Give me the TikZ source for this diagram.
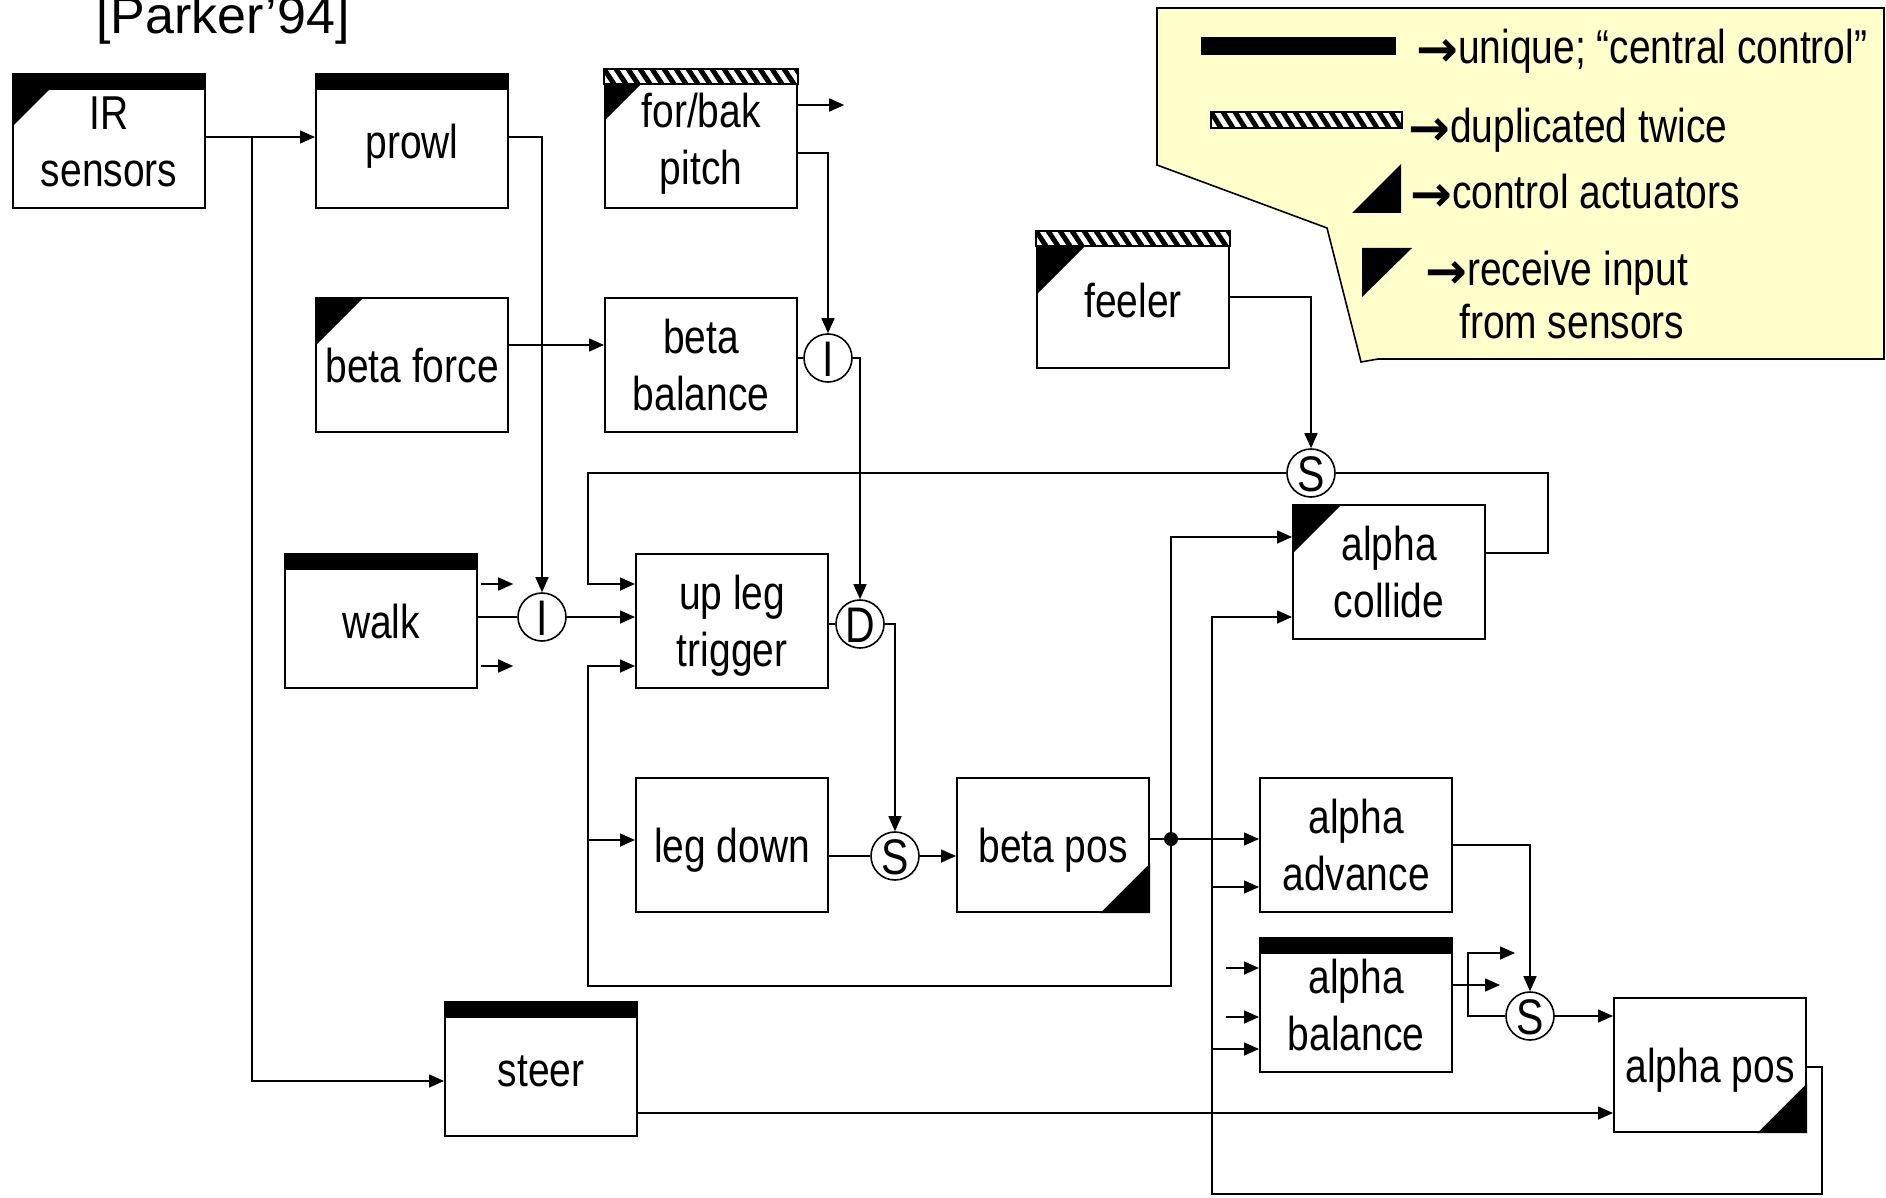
\documentclass[tikz,border=0pt]{standalone}
\usepackage{fontspec}
\setmainfont{Liberation Sans}[FakeStretch=0.82]
\newfontfamily\titlefont{Liberation Sans}
\newfontfamily\arrowfont{DejaVu Sans}
\usetikzlibrary{arrows.meta}

\definecolor{legendyellow}{RGB}{255,255,204}

\newcommand\boxfont{\fontsize{47.5}{57}\selectfont}
\newcommand\gatefont{\fontsize{50}{57}\selectfont}
% heavy arrow glyph that opens each legend entry
\newcommand\legarrow{{\arrowfont\bfseries\fontsize{50}{57}\selectfont\raisebox{-3pt}{→}}}
% two centred lines, baseline of the box = baseline of the last line
\newcommand\twoline[2]{\vbox{\baselineskip=57pt\halign{\hfil##\hfil\cr#1\cr#2\cr}}}

% black "unique" bar along the top of a behaviour box
\newcommand\topbar[1]{\fill (#1.north west) rectangle ([yshift=-17pt]#1.north east);}
% striped "duplicated" bar along the top of a behaviour box
\newcommand\hatchbar[1]{%
  \begin{scope}
    \clip (#1.north west) rectangle ([yshift=-15pt]#1.north east);
    \fill[white] (#1.north west) rectangle ([yshift=-15pt]#1.north east);
    \foreach \k in {-12,0,...,204}
      \draw[line width=5pt] ([xshift=\k pt]#1.north west) -- ++(10,15);
  \end{scope}
  \draw[line width=1.6pt] (#1.north west) rectangle ([yshift=-15pt]#1.north east);}
% sensor-input wedge in the top left corner (offset below a bar, size)
\newcommand\sensetri[3]{\fill ([yshift=-#2pt]#1.north west) -- ++(#3,0) -- ++(-#3,#3) -- cycle;}
% actuator wedge in the bottom right corner
\newcommand\acttri[1]{\fill (#1.south east) -- ++(0,-50) -- ++(-50,50) -- cycle;}

\tikzset{
  blk/.style={draw, line width=2.2pt, rectangle, minimum width=192pt,
    minimum height=134pt, inner sep=0pt, anchor=north west, fill=white,
    font=\boxfont, text height=34pt, text depth=0pt},
  blk2/.style={blk, text height=91pt},
  gate/.style={circle, draw, line width=1.6pt, fill=white, minimum size=48pt,
    inner sep=0pt, font=\gatefont, text height=36pt, text depth=0pt},
  wire/.style={line width=1.6pt},
  arr/.style={wire, -{Triangle[length=15pt,width=13pt]}},
  lgd/.style={anchor=base west, inner sep=0pt, font=\boxfont},
}

\begin{document}
\begin{tikzpicture}[x=1pt,y=-1pt]
\useasboundingbox (0,0) rectangle (1886,1198);

% ---------- legend callout ----------
\filldraw[fill=legendyellow, line width=1.6pt]
  (1157,8) -- (1884,8) -- (1884,359) -- (1378,359) -- (1361,362)
  -- (1327,228) -- (1157,165) -- cycle;
\fill (1201,37) rectangle (1396,55);
\begin{scope}
  \clip (1211,112) rectangle (1402,128);
  \fill[white] (1211,112) rectangle (1402,128);
  \foreach \k in {1199,1211,...,1405}
    \draw[line width=5pt] (\k,112) -- ++(10,16);
\end{scope}
\draw[line width=1.6pt] (1211,112) rectangle (1402,128);
\fill (1352,213) -- (1401,213) -- (1401,164) -- cycle;
\fill (1362,248) -- (1412,248) -- (1362,297) -- cycle;
\node[lgd] (leg1) at (1416,64)  {\legarrow unique; “central control”};
\node[lgd] (leg2) at (1408,143) {\legarrow duplicated twice};
\node[lgd] (leg3) at (1410,209) {\legarrow control actuators};
\node[lgd] (leg4) at (1425,285) {\legarrow receive input};
\node[lgd] (leg5) at (1459,338) {from sensors};

% ---------- title ----------
\node[anchor=base west, inner sep=0pt, font={\titlefont\fontsize{52}{60}\selectfont}]
  (title) at (96,34) {[Parker’94]};

% ---------- behaviour boxes ----------
\node[blk2] (ir)        at (12,73)    {\twoline{IR}{sensors}};
\node[blk]  (prowl)     at (315,73)   {prowl};
\node[blk2, minimum height=138pt] (forbak) at (604,69) {\twoline{for/bak}{pitch}};
\node[blk]  (betaforce) at (315,297)  {beta force};
\node[blk2] (betabal)   at (604,297)  {\twoline{beta}{balance}};
\node[blk, minimum height=136pt] (feeler) at (1036,231) {feeler};
\node[blk]  (walk)      at (284,553)  {walk};
\node[blk2] (upleg)     at (635,553)  {\twoline{up leg}{trigger}};
\node[blk2] (alphacol)  at (1292,504) {\twoline{alpha}{collide}};
\node[blk]  (legdown)   at (635,777)  {leg down};
\node[blk]  (betapos)   at (956,777)  {beta pos};
\node[blk2] (alphaadv)  at (1259,777) {\twoline{alpha}{advance}};
\node[blk2] (alphabal)  at (1259,937) {\twoline{alpha}{balance}};
\node[blk]  (alphapos)  at (1613,997) {alpha pos};
\node[blk]  (steer)     at (444,1001) {steer};

% box markings
\topbar{ir}      \sensetri{ir}{17}{37}
\topbar{prowl}
\hatchbar{forbak} \sensetri{forbak}{15}{37}
\sensetri{betaforce}{0}{49}
\hatchbar{feeler} \sensetri{feeler}{15}{49}
\topbar{walk}
\sensetri{alphacol}{0}{50}
\acttri{betapos}
\topbar{alphabal}
\acttri{alphapos}
\topbar{steer}

% ---------- suppression / inhibition / default nodes ----------
\node[gate] (iw)  at (542,617)  {I};
\node[gate] (ib)  at (828,358)  {I};
\node[gate] (d)   at (860,624)  {D};
\node[gate] (sld) at (895,856)  {S};
\node[gate] (sf)  at (1311,473) {S};
\node[gate] (sab) at (1530,1016) {S};

% ---------- connectors ----------
\coordinate (irsplit) at (252,137);
\draw[arr] (ir.east |- irsplit) -- (prowl.west |- irsplit);
\draw[arr] (irsplit) |- (steer.west |- 0,1081);
\draw[arr] (prowl.east |- 0,137) -| (iw.north);
\draw[arr] (betaforce.east |- 0,345) -- (betabal.west |- 0,345);

\draw[wire] (walk.east |- iw) -- (iw.west);
\draw[arr] (iw.east) -- (upleg.west |- iw);
\draw[arr] ([xshift=3pt]walk.east |- 0,584) -- ++(32,0);
\draw[arr] ([xshift=3pt]walk.east |- 0,666) -- ++(32,0);

\draw[arr] (forbak.east |- 0,105) -- ++(46,0);
\draw[arr] (forbak.east |- 0,153) -| (ib.north);
\draw[wire] (betabal.east |- ib) -- (ib.west);
\draw[arr] (ib.east) -| (d.north);
\draw[wire] (upleg.east |- d) -- (d.west);
\draw[arr] (d.east) -| (sld.north);
\draw[wire] (legdown.east |- sld) -- (sld.west);
\draw[arr] (sld.east) -- (betapos.west |- sld);

% beta pos fan-out and lower feedback loop
\coordinate (dot) at (1171,839);
\coordinate (fbl) at (588,986);
\draw[wire] (betapos.east |- dot) -- (dot);
\draw[arr] (dot) -- (alphaadv.west |- dot);
\draw[arr] (dot) |- (alphacol.west |- 0,537);
\draw[arr] (dot) |- (fbl) -- (fbl |- 0,666) -- (upleg.west |- 0,666);
\draw[arr] (fbl |- 0,840) -- (legdown.west |- 0,840);
\fill (dot) circle (7pt);

% collision feedback through the feeler suppressor
\coordinate (fbt) at (588,473);
\draw[wire] (alphacol.east |- 0,553) -| (1548,473) -- (sf.east);
\draw[arr] (sf.west) -- (fbt) -- (fbt |- 0,584) -- (upleg.west |- 0,584);
\draw[arr] (feeler.east |- 0,297) -| (sf.north);

% alpha side
\draw[arr] (alphaadv.east |- 0,845) -| (sab.north);
\coordinate (abfork) at (1468,953);
\draw[arr] (alphabal.east |- 0,985) -- (1500,985);
\draw[arr] (sab.west) -| (abfork) -- ++(47,0);
\draw[arr] (sab.east) -- (alphapos.west |- sab);
\draw[arr] (steer.east |- 0,1113) -- (alphapos.west |- 0,1113);

% alpha pos feedback
\coordinate (rb) at (1822,1194);
\coordinate (lb) at (1212,1194);
\draw[arr] (alphapos.east |- 0,1067) -| (rb) -- (lb) -- (lb |- 0,617) -- (alphacol.west |- 0,617);
\draw[arr] (lb |- 0,887) -- (alphaadv.west |- 0,887);
\draw[arr] (lb |- 0,1049) -- (alphabal.west |- 0,1049);
\draw[arr] (1226,968) -- (alphabal.west |- 0,968);
\draw[arr] (1226,1017) -- (alphabal.west |- 0,1017);
\end{tikzpicture}
\end{document}
